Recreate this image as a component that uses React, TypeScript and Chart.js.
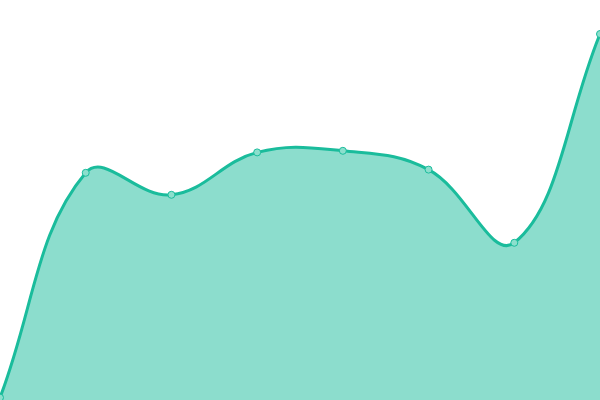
import React, { useRef, useEffect } from 'react';
import { Chart, registerables } from 'chart.js';
Chart.register(...registerables);

// данные графика
const labels = ['1', '2', '3', '4', '5', '6', '7', '8'];
const values = [0.6, 56.8, 51.3, 61.9, 62.3, 57.6, 39.3, 91.5];

const App: React.FC = () => {
  const canvasRef = useRef<HTMLCanvasElement>(null);
  const chartRef = useRef<Chart | null>(null);

  useEffect(() => {
    document.body.style.margin = '0';
    if (!canvasRef.current) return;
    if (chartRef.current) chartRef.current.destroy();
    const ctx = canvasRef.current.getContext('2d');
    if (!ctx) return;
    chartRef.current = new Chart(ctx, {
      type: 'line',
      data: {
        labels,
        datasets: [
          {
            data: values,
            borderColor: '#1abc9c',
            backgroundColor: 'rgba(26, 188, 156, 0.5)',
            pointBackgroundColor: '#8cdfcd',
            pointBorderColor: '#1abc9c',
            pointBorderWidth: 1,
            pointRadius: 3.5,
            fill: true,
            tension: 0.4,
            borderWidth: 3,
          },
        ],
      },
      options: {
        animation: false,
        responsive: true,
        maintainAspectRatio: false,
        layout: { padding: 0, autoPadding: false },
        plugins: { legend: { display: false }, tooltip: { enabled: false } },
        scales: {
          x: { display: false, offset: false },
          y: { display: false, min: 0, max: 100 },
        },
      },
    });
    return () => {
      chartRef.current?.destroy();
      chartRef.current = null;
    };
  }, []);

  return (
    <div style={{ width: 600, height: 400, position: 'relative' }}>
      <canvas ref={canvasRef}></canvas>
    </div>
  );
};

export default App;
